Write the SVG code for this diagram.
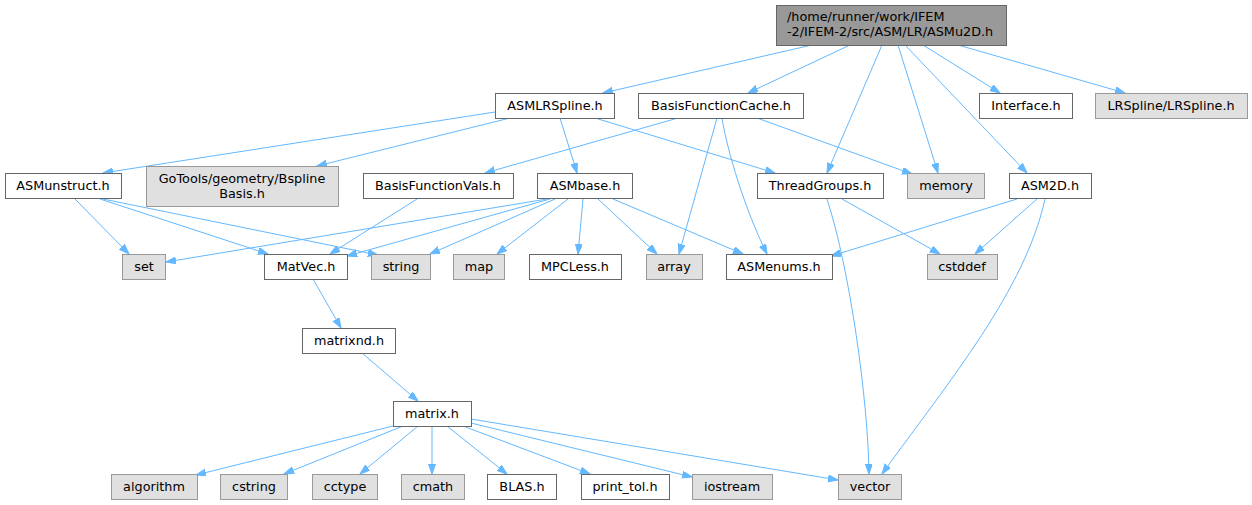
<svg xmlns="http://www.w3.org/2000/svg" width="1252" height="505" viewBox="0 0 1252 505">
<style>
text{font-family:"DejaVu Sans","Liberation Sans",sans-serif;font-size:12.8px;fill:#000;text-anchor:middle}
.n rect{fill:#fff;stroke:#666;stroke-width:1}
.g rect{fill:#e0e0e0;stroke:#999;stroke-width:1}
.r rect{fill:#999;stroke:#666;stroke-width:1}
.e path{fill:none;stroke:#63b8ff;stroke-width:1;marker-end:url(#ah)}
</style>
<defs>
<marker id="ah" markerUnits="userSpaceOnUse" markerWidth="11" markerHeight="8" refX="10" refY="3.5" orient="auto">
<path d="M0,0 L10,3.5 L0,7 z" fill="#63b8ff" stroke="#63b8ff" stroke-width="1"/>
</marker>
</defs>
<rect width="1252" height="505" fill="#fff"/>
<g id="connectors" class="e">
<path d="M812,45 L603,93"/>
<path d="M850,45 L748,93"/>
<path d="M882,45 L827,173"/>
<path d="M898,45 L938,173"/>
<path d="M905,45 L1027,173"/>
<path d="M923,45 L1000,93"/>
<path d="M958,45 L1125,93"/>
<path d="M495,112 L103,173"/>
<path d="M510,118 L317,166"/>
<path d="M560,118 L577,173"/>
<path d="M595,118 L775,173"/>
<path d="M678,118 L485,173"/>
<path d="M717,118 L679,254"/>
<path d="M722,118 C727,150 745,210 767,254"/>
<path d="M757,118 L912,174"/>
<path d="M75,199 L129,254"/>
<path d="M100,199 L268,254"/>
<path d="M103,199 L378,255"/>
<path d="M417,199 L330,254"/>
<path d="M547,199 L166,262"/>
<path d="M550,199 L347,256"/>
<path d="M555,199 L430,254"/>
<path d="M568,199 L497,254"/>
<path d="M583,199 L578,254"/>
<path d="M598,199 L657,254"/>
<path d="M613,199 L743,254"/>
<path d="M842,199 L940,254"/>
<path d="M827,199 C850,270 868,400 869,474"/>
<path d="M1017,199 L831,256"/>
<path d="M1037,199 L975,254"/>
<path d="M1045,199 C1025,290 950,380 882,474"/>
<path d="M313,279 L341,328"/>
<path d="M362,353 L418,401"/>
<path d="M393,426 L196,475"/>
<path d="M403,426 L284,474"/>
<path d="M418,426 L360,474"/>
<path d="M432,426 L432,474"/>
<path d="M447,426 L507,474"/>
<path d="M463,426 L590,474"/>
<path d="M471,423 L692,477"/>
<path d="M471,419 L838,480"/>
</g>
<g id="root" class="r"><rect x="776.5" y="5.5" width="230" height="40"/><text x="787" y="21" style="text-anchor:start">/home/runner/work/IFEM</text><text x="787" y="36" style="text-anchor:start">-2/IFEM-2/src/ASM/LR/ASMu2D.h</text></g>
<g id="ASMLRSpline" class="n"><rect x="495.5" y="93.5" width="119" height="25"/><text x="555" y="110">ASMLRSpline.h</text></g>
<g id="BasisFunctionCache" class="n"><rect x="638.5" y="93.5" width="165" height="25"/><text x="721" y="110">BasisFunctionCache.h</text></g>
<g id="Interface" class="n"><rect x="979.5" y="93.5" width="93" height="25"/><text x="1026" y="110">Interface.h</text></g>
<g id="LRSpline" class="g"><rect x="1095.5" y="93.5" width="152" height="25"/><text x="1171" y="110">LRSpline/LRSpline.h</text></g>
<g id="ASMunstruct" class="n"><rect x="5.5" y="173.5" width="116" height="25"/><text x="63" y="190">ASMunstruct.h</text></g>
<g id="GoTools" class="g"><rect x="146.5" y="166.5" width="192" height="40"/><text x="242" y="183">GoTools/geometry/Bspline</text><text x="242" y="198">Basis.h</text></g>
<g id="BasisFunctionVals" class="n"><rect x="363.5" y="173.5" width="150" height="25"/><text x="438" y="190">BasisFunctionVals.h</text></g>
<g id="ASMbase" class="n"><rect x="537.5" y="173.5" width="95" height="25"/><text x="585" y="190">ASMbase.h</text></g>
<g id="ThreadGroups" class="n"><rect x="757.5" y="173.5" width="126" height="25"/><text x="820" y="190">ThreadGroups.h</text></g>
<g id="memory" class="g"><rect x="907.5" y="173.5" width="77" height="25"/><text x="946" y="190">memory</text></g>
<g id="ASM2D" class="n"><rect x="1009.5" y="173.5" width="82" height="25"/><text x="1050" y="190">ASM2D.h</text></g>
<g id="set" class="g"><rect x="122.5" y="254.5" width="43" height="25"/><text x="144" y="271">set</text></g>
<g id="MatVec" class="n"><rect x="264.5" y="254.5" width="83" height="25"/><text x="306" y="271">MatVec.h</text></g>
<g id="string" class="g"><rect x="371.5" y="254.5" width="59" height="25"/><text x="401" y="271">string</text></g>
<g id="map" class="g"><rect x="453.5" y="254.5" width="51" height="25"/><text x="479" y="271">map</text></g>
<g id="MPCLess" class="n"><rect x="529.5" y="254.5" width="92" height="25"/><text x="575" y="271">MPCLess.h</text></g>
<g id="array" class="g"><rect x="646.5" y="254.5" width="56" height="25"/><text x="674" y="271">array</text></g>
<g id="ASMenums" class="n"><rect x="726.5" y="254.5" width="106" height="25"/><text x="779" y="271">ASMenums.h</text></g>
<g id="cstddef" class="g"><rect x="927.5" y="254.5" width="70" height="25"/><text x="962" y="271">cstddef</text></g>
<g id="matrixnd" class="n"><rect x="302.5" y="328.5" width="93" height="25"/><text x="349" y="345">matrixnd.h</text></g>
<g id="matrix" class="n"><rect x="393.5" y="401.5" width="78" height="25"/><text x="432" y="418">matrix.h</text></g>
<g id="algorithm" class="g"><rect x="111.5" y="474.5" width="86" height="25"/><text x="154" y="491">algorithm</text></g>
<g id="cstring" class="g"><rect x="220.5" y="474.5" width="67" height="25"/><text x="254" y="491">cstring</text></g>
<g id="cctype" class="g"><rect x="312.5" y="474.5" width="65" height="25"/><text x="345" y="491">cctype</text></g>
<g id="cmath" class="g"><rect x="401.5" y="474.5" width="63" height="25"/><text x="433" y="491">cmath</text></g>
<g id="BLAS" class="n"><rect x="487.5" y="474.5" width="69" height="25"/><text x="522" y="491">BLAS.h</text></g>
<g id="print_tol" class="n"><rect x="581.5" y="474.5" width="88" height="25"/><text x="625" y="491">print_tol.h</text></g>
<g id="iostream" class="g"><rect x="692.5" y="474.5" width="80" height="25"/><text x="732" y="491">iostream</text></g>
<g id="vector" class="g"><rect x="838.5" y="474.5" width="63" height="25"/><text x="870" y="491">vector</text></g>
</svg>
